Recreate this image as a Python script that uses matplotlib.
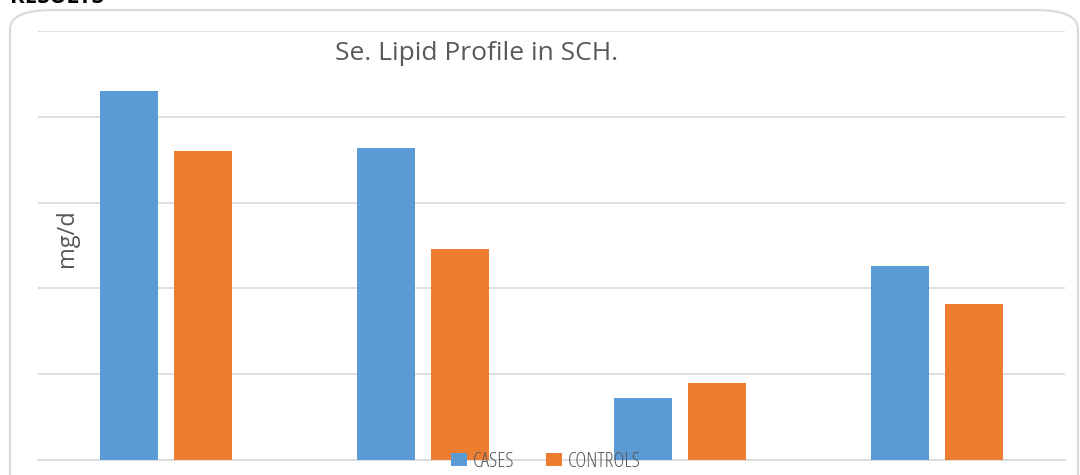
import matplotlib
matplotlib.use("Agg")
import matplotlib.pyplot as plt
from matplotlib.patches import FancyBboxPatch
import numpy as np

categories = ["Total Cholesterol", "Triglycerides", "HDL", "LDL"]
cases = [215, 182, 36, 113]
controls = [180, 123, 45, 91]
series_names = ["CASES", "CONTROLS"]
title = "Se. Lipid Profile in SCH."
ylabel = "mg/d"

W, H = 1080, 475
fig = plt.figure(figsize=(W / 100, H / 100), dpi=100)

# outer rounded frame
frame = FancyBboxPatch((10 / W, -20 / H), (1078 - 10) / W, (H - 10 + 20) / H,
                       transform=fig.transFigure, boxstyle="round,pad=0,rounding_size=0.04",
                       fill=False, edgecolor="#d9d9d9", linewidth=1.5, clip_on=False)
fig.patches.append(frame)

fig.text(10 / W, (H - 3) / H, "RESULTS", fontsize=16, fontweight="bold",
         color="black", va="baseline", ha="left", family="Open Sans")

left, right = 38 / W, 1065 / W
bottom, top = (H - 460) / H, (H - 31) / H
ax = fig.add_axes([left, bottom, right - left, top - bottom])

x = np.arange(len(categories))
bw = 0.226
off = 0.144
ax.bar(x - off, cases, width=bw, color="#5B9BD5", label=series_names[0], zorder=3)
ax.bar(x + off, controls, width=bw, color="#ED7D31", label=series_names[1], zorder=3)

ax.set_xlim(-0.5, len(categories) - 0.5)
ax.set_ylim(0, 250)
ax.set_yticks(np.arange(0, 251, 50))
ax.yaxis.grid(True, color="#d9d9d9", linewidth=1.2, zorder=0)
ax.tick_params(left=False, bottom=False, labelleft=False, labelbottom=False)
for s in ["top", "right", "left"]:
    ax.spines[s].set_visible(False)
ax.spines["bottom"].set_color("#d9d9d9")
ax.spines["bottom"].set_linewidth(1.2)

fig.text(477 / W, (H - 54) / H, title, fontsize=19, color="#595959",
         ha="center", va="center", family="Open Sans")
fig.text(67 / W, (H - 238) / H, ylabel, fontsize=17, color="#595959",
         ha="center", va="center", rotation=90, family="Open Sans")

leg = fig.legend(loc="center", bbox_to_anchor=(546 / W, (H - 462) / H),
                 ncol=2, frameon=False, handlelength=0.75, handleheight=0.6,
                 columnspacing=1.5, handletextpad=0.3, borderpad=0,
                 prop={"family": "Open Sans", "size": 15, "stretch": "condensed"})
for t in leg.get_texts():
    t.set_color("#595959")

fig.savefig("out.png", dpi=100)
